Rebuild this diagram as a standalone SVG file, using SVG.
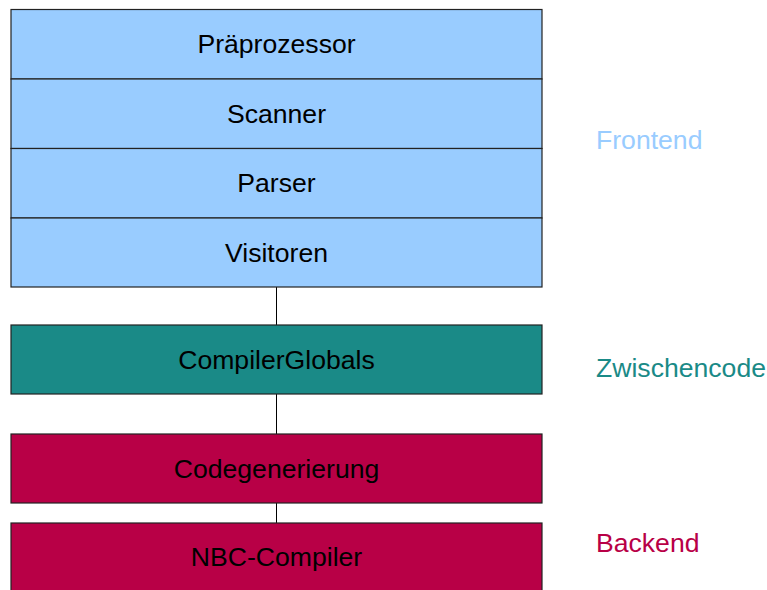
<svg xmlns="http://www.w3.org/2000/svg" width="767" height="590" viewBox="0 0 767 590">
<style>
.box{stroke:#222;stroke-width:1.2}
.fe{fill:#99ccff}
.zc{fill:#1a8a87}
.be{fill:#b80046}
text{font-family:"Liberation Sans",Arial,sans-serif;font-size:26.6px}
.t{fill:#000;text-anchor:middle}
.conn line{stroke:#000;stroke-width:1}
</style>
<rect width="767" height="590" fill="#fff"/>
<g class="conn">
<line x1="276.5" y1="287" x2="276.5" y2="325"/>
<line x1="276.5" y1="394" x2="276.5" y2="434"/>
<line x1="276.5" y1="503" x2="276.5" y2="523"/>
</g>
<g id="praeprozessor"><rect class="box fe" x="11" y="9.5" width="531" height="69.5"/><text class="t" x="276.5" y="53">Präprozessor</text></g>
<g id="scanner"><rect class="box fe" x="11" y="79" width="531" height="69.5"/><text class="t" x="276.5" y="122.5">Scanner</text></g>
<g id="parser"><rect class="box fe" x="11" y="148.5" width="531" height="69.5"/><text class="t" x="276.5" y="192">Parser</text></g>
<g id="visitoren"><rect class="box fe" x="11" y="218" width="531" height="69"/><text class="t" x="276.5" y="261.5">Visitoren</text></g>
<g id="compilerglobals"><rect class="box zc" x="11" y="325" width="531" height="69"/><text class="t" x="276.5" y="368.5">CompilerGlobals</text></g>
<g id="codegenerierung"><rect class="box be" x="11" y="434" width="531" height="69"/><text class="t" x="276.5" y="477.5">Codegenerierung</text></g>
<g id="nbc-compiler"><rect class="box be" x="11" y="523" width="531" height="68"/><text class="t" x="276.5" y="566">NBC-Compiler</text></g>
<g id="label-frontend"><text x="596" y="149" fill="#99ccff">Frontend</text></g>
<g id="label-zwischencode"><text x="596" y="377" fill="#1a8a87">Zwischencode</text></g>
<g id="label-backend"><text x="596" y="552" fill="#b80046">Backend</text></g>
</svg>
